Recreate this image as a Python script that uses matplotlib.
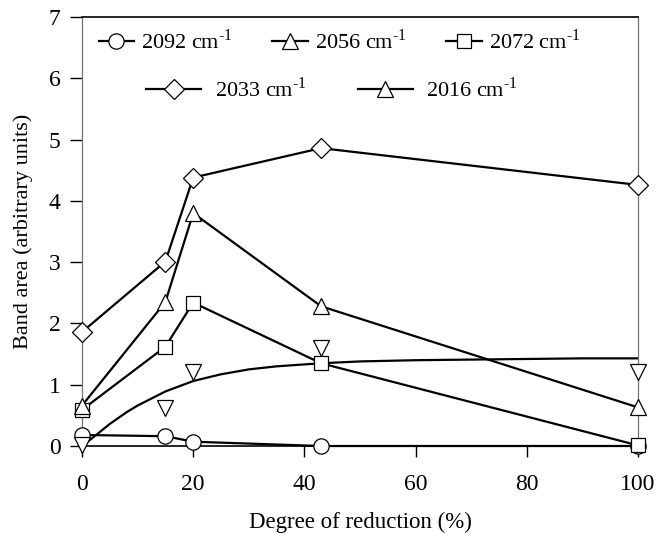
import matplotlib
matplotlib.use("Agg")
import matplotlib.pyplot as plt
from matplotlib.lines import Line2D

plt.rcParams['font.family'] = ['Liberation Serif', 'DejaVu Serif']
plt.rcParams['mathtext.fontset'] = 'custom'
plt.rcParams['mathtext.rm'] = 'Liberation Serif'

# degree of reduction (%)
reduction = [0, 15, 20, 43, 100]

# band areas
band_2092 = [0.18, 0.16, 0.07, 0.0, 0.0]
band_2056 = [0.66, 2.35, 3.80, 2.28, 0.63]
band_2072 = [0.59, 1.62, 2.34, 1.35, 0.01]
band_2033 = [1.86, 3.01, 4.38, 4.86, 4.26]
band_2016 = [0.02, 0.62, 1.21, 1.60, 1.20]

# fitted curve for the 2016 band, read at several points
fit_x = [0, 2, 5, 8, 10, 15, 20, 25, 30, 35, 43, 50, 60, 70, 80, 90, 100]
fit_y = [0.0, 0.14, 0.36, 0.55, 0.66, 0.89, 1.06, 1.17, 1.25, 1.30, 1.35, 1.38, 1.40, 1.41, 1.42, 1.43, 1.43]

sup = '$^{\\mathregular{\\text{-1}}}$'
labels = ['2092 cm' + sup, '2056 cm' + sup, '2072 cm' + sup,
          '2033 cm' + sup, '2016 cm' + sup]

fig = plt.figure(figsize=(6.57, 5.36), dpi=100)
ax = fig.add_axes([82 / 657, 90 / 536, 556 / 657, 429 / 536])

lw = 1.6
mk = dict(markerfacecolor='white', markeredgecolor='black', markeredgewidth=0.9,
          clip_on=False, zorder=3)

ax.plot(reduction, band_2092, '-', color='black', lw=lw, marker='o', ms=11, **mk)
ax.plot(reduction, band_2072, '-', color='black', lw=lw, marker='s', ms=10, **mk)
ax.plot(reduction, band_2056, '-', color='black', lw=lw, marker='^', ms=12, **mk)
ax.plot(reduction, band_2033, '-', color='black', lw=lw, marker='D', ms=10, **mk)
ax.plot(fit_x, fit_y, '-', color='black', lw=lw, zorder=2)
ax.plot(reduction, band_2016, 'none', marker='v', ms=12, **mk)

ax.set_xlim(0, 100)
ax.set_ylim(0, 7)
ax.set_xticks([0, 20, 40, 60, 80, 100])
ax.set_yticks(range(0, 8))
ax.tick_params(direction='out', labelsize=17, width=1, color='black')
ax.tick_params(axis='x', length=8, pad=12)
ax.tick_params(axis='y', length=8.5, pad=7)
for side in ['left', 'right']:
    ax.spines[side].set_color('0.45')
    ax.spines[side].set_linewidth(0.9)
ax.spines['top'].set_linewidth(1.2)
ax.spines['bottom'].set_linewidth(1.2)

ax.set_xlabel('Degree of reduction (%)', fontsize=16.5, labelpad=12)
ax.set_ylabel('Band area (arbitrary units)', fontsize=16, labelpad=11)

def handle(marker, ms):
    return Line2D([], [], color='black', lw=lw, marker=marker, ms=ms,
                  markerfacecolor='white', markeredgecolor='black', markeredgewidth=0.9)

h1 = [handle('o', 11), handle('^', 12), handle('s', 10)]
leg1 = ax.legend(h1, [labels[0], labels[1], labels[2]], ncol=3, frameon=False,
                 loc='center left', bbox_to_anchor=(0.030, 0.942), fontsize=16,
                 handlelength=1.6, handletextpad=0.3, columnspacing=1.8,
                 borderpad=0, borderaxespad=0)
ax.add_artist(leg1)
h2 = [handle('D', 10), handle('^', 12)]
ax.legend(h2, [labels[3], labels[4]], ncol=2, frameon=False,
          loc='center left', bbox_to_anchor=(0.115, 0.832), fontsize=16,
          handlelength=2.5, handletextpad=0.6, columnspacing=2.3,
          borderpad=0, borderaxespad=0)

fig.savefig('out.png', dpi=100)
